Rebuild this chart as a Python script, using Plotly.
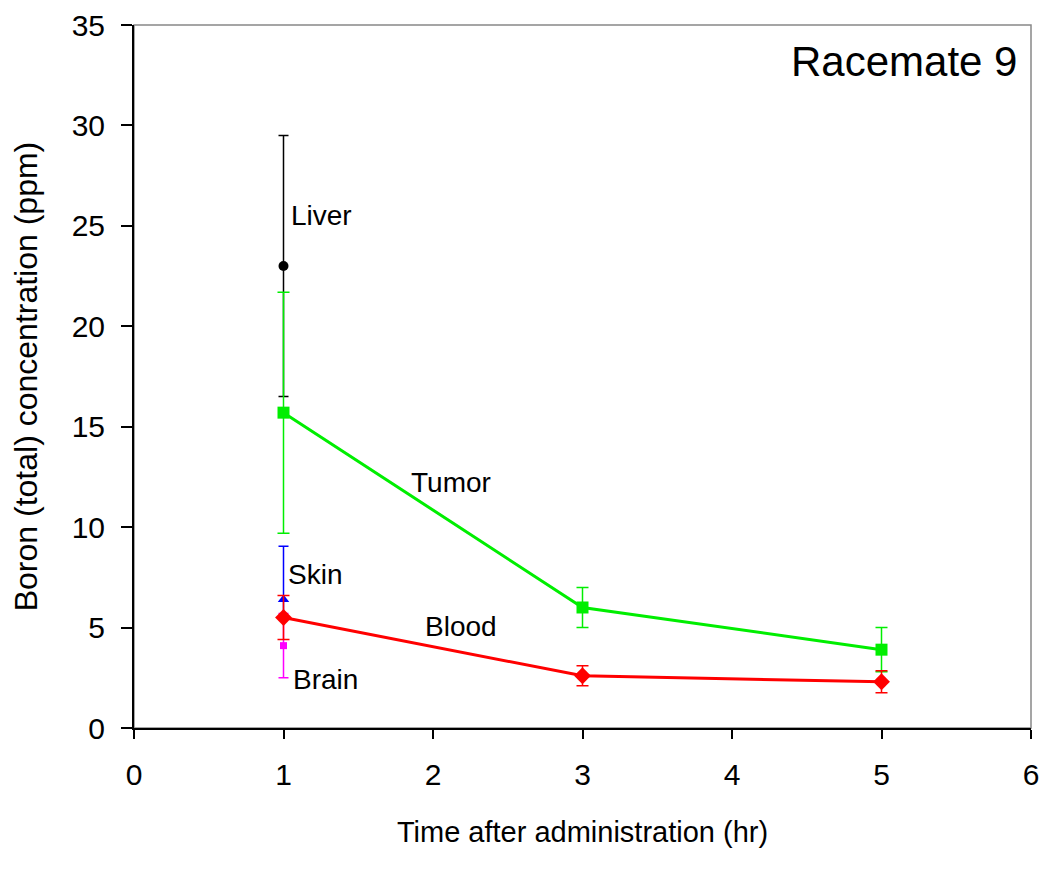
import plotly.graph_objects as go

# Werte
zeit = [1, 3, 5]

tumor = [15.7, 6.0, 3.9]
tumor_err = [6.0, 1.0, 1.1]

blut = [5.5, 2.6, 2.3]
blut_err = [1.1, 0.5, 0.55]

leber_x = [1]
leber = [23.0]
leber_err = [6.5]

haut_x = [1]
haut = [6.4]
haut_err_plus = [2.65]
haut_err_minus = [0.9]

hirn_x = [1]
hirn = [4.1]
hirn_err = [1.6]

FONT = "Liberation Sans, Arial, sans-serif"

fig = go.Figure()

fig.add_trace(go.Scatter(
    x=leber_x, y=leber, mode="markers",
    marker=dict(symbol="circle", size=10, color="black"),
    error_y=dict(type="data", array=leber_err, color="black", thickness=1.5, width=5),
))
fig.add_trace(go.Scatter(
    x=zeit, y=tumor, mode="lines+markers",
    line=dict(color="#00ee00", width=3),
    marker=dict(symbol="square", size=12, color="#00ee00"),
    error_y=dict(type="data", array=tumor_err, color="#00ee00", thickness=1.5, width=6),
))
fig.add_trace(go.Scatter(
    x=haut_x, y=haut, mode="markers",
    marker=dict(symbol="triangle-up", size=10, color="#0000ff"),
    error_y=dict(type="data", symmetric=False, array=haut_err_plus,
                 arrayminus=haut_err_minus, color="#0000ff", thickness=1.5, width=5),
))
fig.add_trace(go.Scatter(
    x=hirn_x, y=hirn, mode="markers",
    marker=dict(symbol="square", size=7, color="#ff00ff"),
    error_y=dict(type="data", array=hirn_err, color="#ff00ff", thickness=1.5, width=5),
))
fig.add_trace(go.Scatter(
    x=zeit, y=blut, mode="lines+markers",
    line=dict(color="#ff0000", width=3),
    marker=dict(symbol="diamond", size=13, color="#ff0000"),
    error_y=dict(type="data", array=blut_err, color="#ff0000", thickness=1.5, width=6),
))

beschriftungen = [
    ("Liver", 1.04, 25.5),
    ("Tumor", 1.84, 12.2),
    ("Skin", 1.02, 7.65),
    ("Blood", 1.93, 5.05),
    ("Brain", 1.05, 2.4),
]
for text, x, y in beschriftungen:
    fig.add_annotation(x=x, y=y, text=text, showarrow=False, xanchor="left",
                       yanchor="middle", font=dict(family=FONT, size=28, color="black"))

fig.add_annotation(x=5.92, y=33.2, text="Racemate 9", showarrow=False, xanchor="right",
                   yanchor="middle", font=dict(family=FONT, size=42, color="black"))

# grauer Rahmen oben/rechts
fig.add_shape(type="rect", xref="paper", yref="paper", x0=0, y0=0, x1=1, y1=1,
              line=dict(color="#888888", width=1.5), layer="below")

# Seite hat 8px Rand -> Figur etwas kleiner
fig.update_layout(
    width=1034, height=853,
    margin=dict(l=126, r=11, t=17, b=133),
    plot_bgcolor="white", paper_bgcolor="white",
    showlegend=False,
    font=dict(family=FONT, color="black"),
)
fig.update_xaxes(
    range=[0, 6], tickvals=[0, 1, 2, 3, 4, 5, 6], showgrid=False, zeroline=False,
    automargin=False,
    showline=True, linecolor="black", linewidth=2, ticks="outside", ticklen=9,
    tickwidth=1.5, tickcolor="black", tickfont=dict(size=30), ticklabelstandoff=10,
    title=dict(text="Time after administration (hr)", font=dict(size=29), standoff=32),
)
fig.update_yaxes(
    range=[0, 35], tickvals=[0, 5, 10, 15, 20, 25, 30, 35], showgrid=False, zeroline=False,
    automargin=False,
    showline=True, linecolor="black", linewidth=2, ticks="outside", ticklen=11,
    tickwidth=1.5, tickcolor="black", tickfont=dict(size=30), ticklabelstandoff=10,
    title=dict(text="Boron (total) concentration (ppm)", font=dict(size=32), standoff=30),
)

fig.write_html("out.html")
